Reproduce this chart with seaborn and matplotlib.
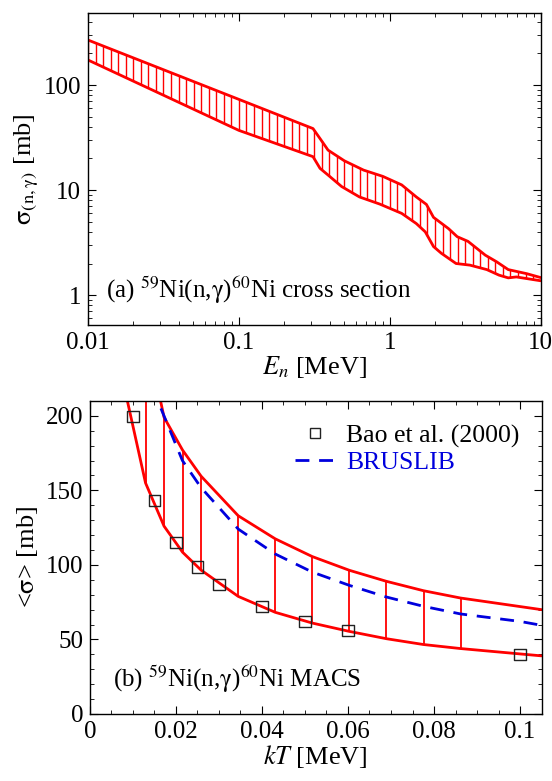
import numpy as np
import pandas as pd
import seaborn as sns
import matplotlib
matplotlib.use('Agg')
import matplotlib.pyplot as plt
from matplotlib.lines import Line2D
from matplotlib.ticker import LogLocator, MultipleLocator, FixedLocator, NullFormatter

# (a) cross section band
en_upper = [0.01, 0.1, 0.31, 0.356, 0.39, 0.5, 0.67, 0.9, 1.2, 1.5, 1.75, 1.95, 2.45, 2.8, 3.3, 4.3, 5.1, 6.1, 8.1, 10]
sig_upper = [268, 73, 38.5, 29, 24, 19, 15.5, 13.5, 11.2, 8.6, 7.3, 5.5, 4.3, 3.6, 3.25, 2.4, 2.08, 1.75, 1.6, 1.47]
en_lower = [0.01, 0.1, 0.31, 0.345, 0.39, 0.48, 0.63, 0.86, 1.2, 1.5, 1.72, 1.95, 2.2, 2.75, 3.4, 4.4, 5.3, 6.1, 6.9, 10]
sig_lower = [173, 37, 20.8, 16.1, 13.9, 10.8, 8.6, 7.35, 6.0, 4.8, 4.0, 2.9, 2.5, 2.0, 1.93, 1.75, 1.55, 1.46, 1.49, 1.37]

# (b) MACS band on the T9 grid
kt_upper = [0.01292, 0.01723, 0.02154, 0.02585, 0.03447, 0.04309, 0.0517, 0.06032, 0.06894, 0.07756, 0.08617, 0.105]
macs_upper = [257, 199, 177, 159.5, 133, 117.5, 105.6, 96.4, 89, 82.7, 77.8, 70]
kt_lower = [0.00862, 0.01292, 0.01723, 0.02154, 0.02585, 0.03447, 0.04309, 0.0517, 0.06032, 0.06894, 0.07756, 0.08617, 0.105]
macs_lower = [211, 155, 126, 108.5, 96.5, 78.9, 68.2, 61, 55.4, 50.5, 46.6, 43.9, 39]
kt_bruslib = [0.0165, 0.0215, 0.0258, 0.0345, 0.0431, 0.0517, 0.0603, 0.0689, 0.0776, 0.0862, 0.1, 0.105]
macs_bruslib = [205, 170, 152, 124, 107.3, 95.2, 86.3, 78.5, 72.2, 67.1, 62.1, 59.5]
kt_bao = [0.01, 0.015, 0.02, 0.025, 0.03, 0.04, 0.05, 0.06, 0.1]
macs_bao = [199.5, 143, 115, 98.6, 87, 72, 62, 56, 40]
kt_hatch = [0.01292, 0.01723, 0.02154, 0.02585, 0.03447, 0.04309, 0.0517, 0.06032, 0.06894, 0.07756, 0.08617]

sns.set_theme(style='ticks')
plt.rcParams['font.family'] = ['Liberation Serif', 'DejaVu Serif']
plt.rcParams['mathtext.fontset'] = 'stix'
plt.rcParams['text.color'] = 'black'
plt.rcParams['axes.labelcolor'] = 'black'
FS = 18

fig = plt.figure(figsize=(5.52, 7.81), dpi=100)
ax1 = fig.add_axes([0.1594, 0.5839, 0.820, 0.3995])
ax2 = fig.add_axes([0.163, 0.0858, 0.818, 0.4008])

red = '#ff0000'
blue = '#0000dd'
dash = (0, (5, 3.5))

# ---- panel (a)
up = pd.DataFrame({'E': en_upper, 's': sig_upper})
lo = pd.DataFrame({'E': en_lower, 's': sig_lower})
sns.lineplot(data=up, x='E', y='s', ax=ax1, color=red, lw=2, estimator=None)
sns.lineplot(data=lo, x='E', y='s', ax=ax1, color=red, lw=2, estimator=None)
ax1.set_xscale('log')
ax1.set_yscale('log')
hx = np.logspace(-2, 1, 61)
hu = 10 ** np.interp(np.log10(hx), np.log10(en_upper), np.log10(sig_upper))
hl = 10 ** np.interp(np.log10(hx), np.log10(en_lower), np.log10(sig_lower))
ax1.vlines(hx, hl, hu, color=red, lw=1.0)
ax1.set_xlim(0.01, 10)
ax1.set_ylim(0.52, 485)
ax1.xaxis.set_major_locator(FixedLocator([0.01, 0.1, 1, 10]))
ax1.set_xticklabels(['0.01', '0.1', '1', '10'])
ax1.yaxis.set_major_locator(FixedLocator([1, 10, 100]))
ax1.set_yticklabels(['1', '10', '100'])
ax1.xaxis.set_minor_locator(LogLocator(subs=np.arange(2, 10)))
ax1.yaxis.set_minor_locator(LogLocator(subs=np.arange(2, 10)))
ax1.xaxis.set_minor_formatter(NullFormatter())
ax1.yaxis.set_minor_formatter(NullFormatter())
ax1.set_xlabel(r'$E_n$ [MeV]', fontsize=FS + 1, labelpad=0)
ax1.set_ylabel(r'$\mathrm{\sigma_{(n,\gamma)}}$ [mb]', fontsize=FS + 1, labelpad=2)
ax1.text(0.04, 0.085, r'(a) $^{59}$Ni(n,$\mathrm{\gamma}$)$^{60}$Ni cross section',
         transform=ax1.transAxes, fontsize=FS)

# ---- panel (b)
bu = pd.DataFrame({'kT': kt_upper, 'm': macs_upper})
bl = pd.DataFrame({'kT': kt_lower, 'm': macs_lower})
bb = pd.DataFrame({'kT': kt_bruslib, 'm': macs_bruslib})
bao = pd.DataFrame({'kT': kt_bao, 'm': macs_bao})
sns.lineplot(data=bu, x='kT', y='m', ax=ax2, color=red, lw=2, estimator=None)
sns.lineplot(data=bl, x='kT', y='m', ax=ax2, color=red, lw=2, estimator=None)
hu2 = np.interp(kt_hatch, kt_upper, macs_upper)
hl2 = np.interp(kt_hatch, kt_lower, macs_lower)
ax2.vlines(kt_hatch, hl2, hu2, color=red, lw=1.3)
sns.lineplot(data=bb, x='kT', y='m', ax=ax2, color=blue, lw=2, dashes=False,
             linestyle=dash, estimator=None)
sns.scatterplot(data=bao, x='kT', y='m', ax=ax2, marker='s', s=64,
                facecolor='none', edgecolor='#222222', linewidth=1.0, zorder=5)
ax2.set_xlim(0, 0.105)
ax2.set_ylim(0, 210)
ax2.xaxis.set_major_locator(FixedLocator([0, 0.02, 0.04, 0.06, 0.08, 0.1]))
ax2.set_xticklabels(['0', '0.02', '0.04', '0.06', '0.08', '0.1'])
ax2.xaxis.set_minor_locator(MultipleLocator(0.005))
ax2.yaxis.set_major_locator(MultipleLocator(50))
ax2.yaxis.set_minor_locator(MultipleLocator(10))
ax2.set_xlabel(r'$kT$ [MeV]', fontsize=FS + 1, labelpad=0)
ax2.set_ylabel(r'<$\mathrm{\sigma}$> [mb]', fontsize=FS + 1, labelpad=4)
ax2.text(0.05, 0.085, r'(b) $^{59}$Ni(n,$\mathrm{\gamma}$)$^{60}$Ni MACS',
         transform=ax2.transAxes, fontsize=FS)
handles = [Line2D([], [], ls='none', marker='s', mfc='none', mec='#222222', ms=7, mew=1),
           Line2D([], [], color=blue, lw=2, ls=dash)]
ax2.legend(handles, ['Bao et al. (2000)', 'BRUSLIB'], loc='upper right',
           bbox_to_anchor=(0.985, 0.975), frameon=False,
           handlelength=1.6, handletextpad=0.4, labelcolor=['black', blue],
           fontsize=FS + 0.5, borderaxespad=0.2, labelspacing=0.15)

for ax in (ax1, ax2):
    ax.tick_params(which='both', direction='in', top=True, right=True, colors='black',
                   labelsize=FS, pad=5)
    ax.tick_params(which='major', length=6, width=0.8)
    ax.tick_params(which='minor', length=3, width=0.6)
    for sp in ax.spines.values():
        sp.set_linewidth(1.0)
        sp.set_color('black')

fig.savefig('out.png', dpi=100)
